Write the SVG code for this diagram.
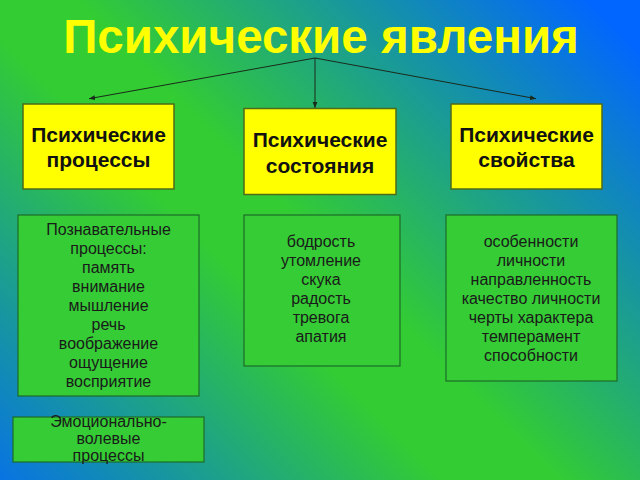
<svg xmlns="http://www.w3.org/2000/svg" width="640" height="480" viewBox="0 0 640 480">
<defs>
<linearGradient id="bg" gradientUnits="userSpaceOnUse" x1="-25" y1="525" x2="545" y2="-45">
<stop offset="0" stop-color="#0066ff"/>
<stop offset="0.45" stop-color="#33cc33"/>
<stop offset="0.55" stop-color="#33cc33"/>
<stop offset="1" stop-color="#0066ff"/>
</linearGradient>
<marker id="ah" viewBox="0 0 10 10" refX="10" refY="5" markerWidth="6" markerHeight="6" orient="auto" markerUnits="userSpaceOnUse">
<path d="M0,1 L10,5 L0,9 z" fill="#1a2a1a"/>
</marker>
<style>
.ybox{fill:#ffff00;stroke:#4d6b1a;stroke-width:1.5}
.gbox{fill:#35cc35;stroke:#1d6b2a;stroke-width:1.2}
.yt{font-family:"Liberation Sans",Arial,sans-serif;font-weight:bold;font-size:21px;fill:#111;text-anchor:middle}
.gt{font-family:"Liberation Sans",Arial,sans-serif;font-size:16px;fill:#1a1a1a;text-anchor:middle}
.title{font-family:"Liberation Sans",Arial,sans-serif;font-weight:bold;font-size:47.5px;fill:#ffff00;text-anchor:middle}
.conn{stroke:#1a2a1a;stroke-width:1;fill:none;marker-end:url(#ah)}
</style>
</defs>
<rect x="0" y="0" width="640" height="480" fill="url(#bg)"/>
<g id="title"><text class="title" x="321" y="53">Психические явления</text></g>
<g id="connectors">
<line class="conn" x1="315" y1="58" x2="89" y2="98.7"/>
<line class="conn" x1="315" y1="58" x2="315" y2="108"/>
<line class="conn" x1="315" y1="58" x2="536" y2="98.7"/>
</g>
<g id="processes">
<rect class="ybox" x="23" y="104" width="151" height="85"/>
<text class="yt" x="98.5" y="141.5">Психические</text>
<text class="yt" x="98.5" y="166.5">процессы</text>
</g>
<g id="states">
<rect class="ybox" x="244" y="108.5" width="152" height="86"/>
<text class="yt" x="320" y="146.5">Психические</text>
<text class="yt" x="320" y="172.5">состояния</text>
</g>
<g id="properties">
<rect class="ybox" x="451" y="104" width="151" height="85"/>
<text class="yt" x="526.5" y="141.5">Психические</text>
<text class="yt" x="526.5" y="166.5">свойства</text>
</g>
<g id="cognitive">
<rect class="gbox" x="18" y="215" width="181" height="181"/>
<text class="gt" x="108.5" y="235">Познавательные</text>
<text class="gt" x="108.5" y="254">процессы:</text>
<text class="gt" x="108.5" y="273">память</text>
<text class="gt" x="108.5" y="292">внимание</text>
<text class="gt" x="108.5" y="311">мышление</text>
<text class="gt" x="108.5" y="330">речь</text>
<text class="gt" x="108.5" y="349">воображение</text>
<text class="gt" x="108.5" y="368">ощущение</text>
<text class="gt" x="108.5" y="387">восприятие</text>
</g>
<g id="state-list">
<rect class="gbox" x="244" y="215" width="156" height="151"/>
<text class="gt" x="321" y="247">бодрость</text>
<text class="gt" x="321" y="266">утомление</text>
<text class="gt" x="321" y="285">скука</text>
<text class="gt" x="321" y="304">радость</text>
<text class="gt" x="321" y="323">тревога</text>
<text class="gt" x="321" y="342">апатия</text>
</g>
<g id="property-list">
<rect class="gbox" x="446" y="215" width="171" height="166"/>
<text class="gt" x="531" y="247">особенности</text>
<text class="gt" x="531" y="266">личности</text>
<text class="gt" x="531" y="285">направленность</text>
<text class="gt" x="531" y="304">качество личности</text>
<text class="gt" x="531" y="323">черты характера</text>
<text class="gt" x="531" y="342">темперамент</text>
<text class="gt" x="531" y="361">способности</text>
</g>
<g id="emotional">
<rect class="gbox" x="13" y="417" width="191" height="45"/>
<text class="gt" x="108.5" y="427">Эмоционально-</text>
<text class="gt" x="108.5" y="444">волевые</text>
<text class="gt" x="108.5" y="461">процессы</text>
</g>
</svg>
